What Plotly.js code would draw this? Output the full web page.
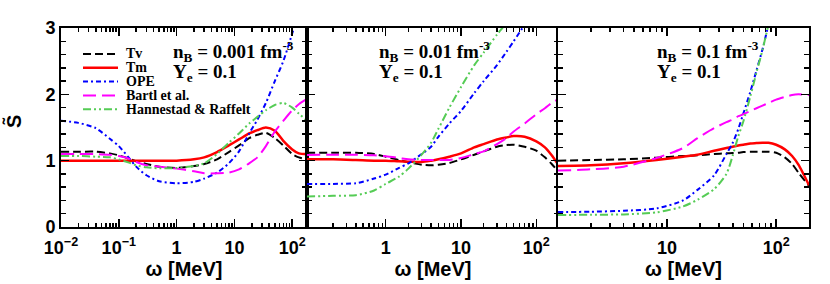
<!DOCTYPE html>
<html><head><meta charset="utf-8">
<script src="https://cdn.plot.ly/plotly-3.0.1.min.js"></script>
<style>html,body{margin:0;padding:0;background:#fff}</style>
</head><body><div id="chart" style="width:830px;height:284px"></div>
<script>
// ---------- data ----------
const seriesNames = ['Tv', 'Tm', 'OPE', 'Bartl et al.', 'Hannestad & Raffelt'];

// panel 1: n_B = 0.001 fm^-3
const omega1 = [0.01, 0.02, 0.04, 0.07, 0.1, 0.15, 0.2, 0.3, 0.5, 1, 2, 3, 5, 8, 12, 18, 25, 35, 50, 70, 100, 130, 180];
const tv1    = [1.135, 1.135, 1.135, 1.11, 1.08, 1.03, 0.99, 0.95, 0.91, 0.89, 0.92, 0.95, 1.02, 1.13, 1.23, 1.34, 1.39, 1.42, 1.34, 1.23, 1.10, 1.05, 1.02];
const tm1    = [1.0, 1.0, 1.0, 1.0, 1.0, 1.0, 1.0, 1.0, 1.0, 1.0, 1.02, 1.05, 1.13, 1.23, 1.32, 1.41, 1.46, 1.50, 1.45, 1.30, 1.17, 1.11, 1.10];
const ope1   = [1.60, 1.57, 1.49, 1.33, 1.22, 1.04, 0.91, 0.78, 0.69, 0.66, 0.68, 0.73, 0.82, 0.96, 1.14, 1.41, 1.62, 1.87, 2.20, 2.50, 2.92, 3.25, 3.6];
const bartl1 = [1.10, 1.10, 1.10, 1.09, 1.07, 1.03, 0.98, 0.93, 0.91, 0.88, 0.84, 0.81, 0.81, 0.82, 0.87, 0.96, 1.05, 1.22, 1.44, 1.60, 1.76, 1.85, 1.93];
const hr1    = [1.07, 1.07, 1.06, 1.05, 1.02, 0.97, 0.93, 0.90, 0.885, 0.89, 0.92, 0.96, 1.10, 1.27, 1.41, 1.56, 1.66, 1.76, 1.84, 1.87, 1.80, 1.71, 1.60];

// panel 2: n_B = 0.01 fm^-3
const omega2 = [0.09, 0.2, 0.4, 0.7, 1, 1.5, 2, 3, 4, 5, 7, 10, 15, 20, 30, 40, 50, 70, 100, 130, 160, 200];
const tv2    = [1.12, 1.12, 1.12, 1.10, 1.06, 1.01, 0.975, 0.94, 0.93, 0.94, 0.965, 1.02, 1.09, 1.14, 1.21, 1.235, 1.24, 1.21, 1.15, 1.05, 0.95, 0.82];
const tm2    = [1.02, 1.02, 1.01, 1.0, 1.0, 0.99, 0.985, 0.98, 1.0, 1.02, 1.06, 1.11, 1.20, 1.25, 1.32, 1.35, 1.37, 1.36, 1.29, 1.20, 1.08, 0.92];
const ope2   = [0.65, 0.65, 0.66, 0.73, 0.79, 0.89, 0.96, 1.10, 1.21, 1.36, 1.56, 1.75, 2.02, 2.20, 2.44, 2.64, 2.80, 3.05, 3.3, 3.5, 3.7, 3.9];
const bartl2 = [1.085, 1.09, 1.09, 1.08, 1.065, 1.04, 1.02, 1.01, 1.01, 1.01, 1.01, 1.04, 1.10, 1.14, 1.25, 1.34, 1.44, 1.56, 1.70, 1.79, 1.87, 1.93];
const hr2    = [0.46, 0.47, 0.48, 0.55, 0.65, 0.76, 0.88, 1.09, 1.27, 1.48, 1.80, 2.11, 2.44, 2.63, 2.90, 3.08, 3.3, 3.5, 3.7, 3.9, 4.0, 4.1];

// panel 3: n_B = 0.1 fm^-3
const omega3 = [1, 2, 4, 8, 14, 19, 27, 35, 40, 45, 50, 58, 66, 75, 85, 100, 120, 140, 160, 200];
const tv3    = [1.0, 1.01, 1.02, 1.045, 1.07, 1.08, 1.10, 1.11, 1.115, 1.12, 1.13, 1.135, 1.135, 1.135, 1.135, 1.12, 1.05, 0.95, 0.82, 0.62];
const tm3    = [0.92, 0.93, 0.96, 1.01, 1.06, 1.09, 1.15, 1.19, 1.21, 1.23, 1.24, 1.26, 1.265, 1.27, 1.27, 1.24, 1.17, 1.07, 0.94, 0.63];
const ope3   = [0.226, 0.23, 0.245, 0.28, 0.40, 0.56, 0.78, 1.10, 1.27, 1.48, 1.71, 2.04, 2.36, 2.68, 3.05, 3.5, 3.9, 4.2, 4.4, 4.6];
const bartl3 = [0.85, 0.87, 0.91, 1.04, 1.19, 1.34, 1.49, 1.58, 1.62, 1.67, 1.70, 1.75, 1.79, 1.83, 1.87, 1.92, 1.96, 1.99, 2.0, 1.99];
const hr3    = [0.18, 0.185, 0.19, 0.22, 0.31, 0.41, 0.57, 0.80, 1.08, 1.37, 1.59, 1.97, 2.33, 2.67, 3.05, 3.5, 3.9, 4.2, 4.4, 4.6];

const panelLabels = ['n<sub>B</sub> = 0.001 fm<sup>-3</sup>', 'n<sub>B</sub> = 0.01 fm<sup>-3</sup>', 'n<sub>B</sub> = 0.1 fm<sup>-3</sup>'];
const yeLabel = 'Y<sub>e</sub> = 0.1';
const xTickVals1 = [0.01, 0.1, 1, 10, 100];
const xTickText1 = ['10<sup>−2</sup>', '10<sup>−1</sup>', '1', '10', '10<sup>2</sup>'];
const xTickVals2 = [1, 10, 100];
const xTickText2 = ['1', '10', '10<sup>2</sup>'];
const xTickVals3 = [10, 100];
const xTickText3 = ['10', '10<sup>2</sup>'];
const yTickVals = [0, 1, 2, 3];

// ---------- styles ----------
const styles = [
  {color: '#000000', dash: '8px,4px', width: 2},
  {color: '#ff0000', dash: 'solid', width: 2.5},
  {color: '#0000ff', dash: '5px,3px,2px,3px', width: 2},
  {color: '#ff00ff', dash: '13px,6px', width: 2},
  {color: '#55cc55', dash: '8px,3px,2px,3px,2px,3px', width: 2}
];

const panels = [
  {x: omega1, ys: [tv1, tm1, ope1, bartl1, hr1], xa: 'x', ya: 'y'},
  {x: omega2, ys: [tv2, tm2, ope2, bartl2, hr2], xa: 'x2', ya: 'y2'},
  {x: omega3, ys: [tv3, tm3, ope3, bartl3, hr3], xa: 'x3', ya: 'y3'}
];

const traces = [];
panels.forEach(p => {
  p.ys.forEach((y, i) => {
    traces.push({
      x: p.x, y: y, xaxis: p.xa, yaxis: p.ya, type: 'scatter', mode: 'lines',
      name: seriesNames[i], showlegend: false,
      line: {color: styles[i].color, dash: styles[i].dash, width: styles[i].width, shape: 'spline', smoothing: 0.7},
      hoverinfo: 'skip'
    });
  });
});

// ---------- layout ----------
const W = 830, H = 284;
const px = v => v / W, py = v => (H - v) / H;
const tickFont = {family: 'Liberation Sans, Arial, sans-serif', size: 18, color: '#000', weight: 'bold'};
const titleFont = {family: 'Liberation Sans, Arial, sans-serif', size: 20, color: '#000', weight: 'bold'};
const serif = 'Liberation Serif, Times New Roman, serif';

function minorLog(lo, hi) {
  const out = [];
  for (let d = lo; d <= hi; d++) for (let k = 2; k <= 9; k++) out.push(k * Math.pow(10, d));
  return out;
}

function xAxis(domain, range, tv, tt, anchor, minorVals) {
  return {
    type: 'log', domain: domain, range: range, anchor: anchor,
    showline: true, linecolor: '#000', linewidth: 2, mirror: 'ticks',
    ticks: 'inside', ticklen: 8, tickwidth: 1.5, tickcolor: '#000',
    tickmode: 'array', tickvals: tv, ticktext: tt, tickfont: tickFont,
    ticklabelstandoff: 3,
    showgrid: false, zeroline: false,
    minor: {tickmode: 'array', tickvals: minorVals, ticks: 'inside', ticklen: 4, tickwidth: 1.5, tickcolor: '#000', showgrid: false},
    title: {text: 'ω [MeV]', font: titleFont, standoff: 0}
  };
}
function yAxis(anchor, showLabels) {
  return {
    domain: [py(227), py(28)], range: [0, 3], anchor: anchor,
    showline: true, linecolor: '#000', linewidth: 2, mirror: 'ticks',
    ticks: 'inside', ticklen: 8, tickwidth: 1.5, tickcolor: '#000',
    tickmode: 'array', tickvals: yTickVals, showticklabels: showLabels, tickfont: tickFont,
    showgrid: false, zeroline: false,
    minor: {dtick: 0.2, ticks: 'inside', ticklen: 5, tickwidth: 1.5, tickcolor: '#000', showgrid: false}
  };
}

const legendRows = [54, 67.8, 81.6, 95.4, 109.2];
const shapes = [], annotations = [];
seriesNames.forEach((n, i) => {
  shapes.push({type: 'line', xref: 'paper', yref: 'paper', x0: px(83), x1: px(118), y0: py(legendRows[i]), y1: py(legendRows[i]),
    line: {color: styles[i].color, dash: styles[i].dash, width: styles[i].width}});
  annotations.push({xref: 'paper', yref: 'paper', x: px(124), y: py(legendRows[i]), xanchor: 'left', yanchor: 'middle',
    text: n, showarrow: false, font: {family: serif, size: 14, color: '#000', weight: 'bold'}});
});
const labelX = [171, 377, 655];
labelX.forEach((lx, i) => {
  annotations.push({xref: 'paper', yref: 'paper', x: px(lx), y: py(52), xanchor: 'left', yanchor: 'middle',
    text: panelLabels[i], showarrow: false, font: {family: serif, size: 19, color: '#000', weight: 'bold'}});
  annotations.push({xref: 'paper', yref: 'paper', x: px(lx), y: py(73), xanchor: 'left', yanchor: 'middle',
    text: yeLabel, showarrow: false, font: {family: serif, size: 19, color: '#000', weight: 'bold'}});
});
annotations.push({xref: 'paper', yref: 'paper', x: px(13), y: py(122), xanchor: 'center', yanchor: 'middle',
  text: 'S\u0303', textangle: -90, showarrow: false, font: titleFont});

const layout = {
  width: W, height: H, margin: {l: 0, r: 0, t: 0, b: 0},
  paper_bgcolor: '#fff', plot_bgcolor: '#fff', showlegend: false,
  xaxis:  xAxis([px(61), px(307)], [-2, Math.log10(180)], xTickVals1, xTickText1, 'y', minorLog(-2, 2)),
  xaxis2: xAxis([px(307), px(559)], [Math.log10(0.09), Math.log10(200)], xTickVals2, xTickText2, 'y2', minorLog(-2, 2)),
  xaxis3: xAxis([px(558), px(809)], [0, Math.log10(200)], xTickVals3, xTickText3, 'y3', minorLog(0, 2)),
  yaxis:  yAxis('x', true),
  yaxis2: yAxis('x2', false),
  yaxis3: yAxis('x3', false),
  shapes: shapes, annotations: annotations
};

Plotly.newPlot('chart', traces, layout, {staticPlot: true, displayModeBar: false});
</script></body></html>
